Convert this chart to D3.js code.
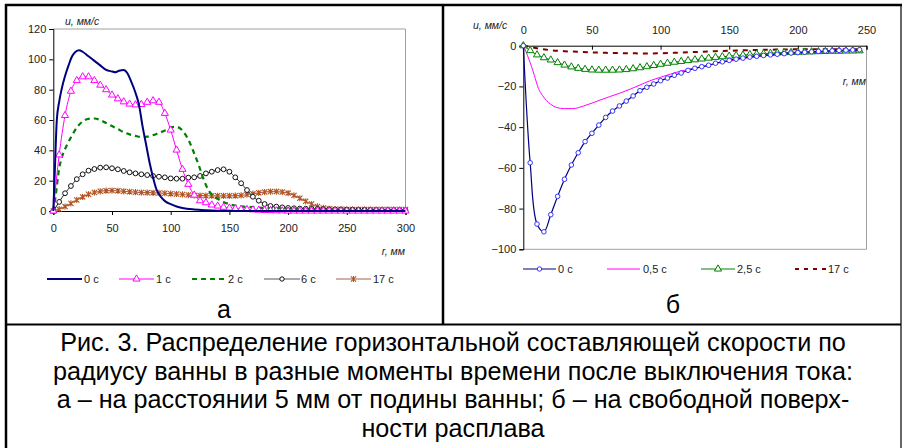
<!DOCTYPE html>
<html><head><meta charset="utf-8">
<script src="https://cdn.jsdelivr.net/npm/d3@7"></script>
<style>
html,body{margin:0;padding:0;background:#fff;}
svg{display:block;font-family:"Liberation Sans",Arial,sans-serif;}
</style></head>
<body><svg id="c" width="904" height="448"></svg>
<script>
// ---------- Panel а: u (mm/s) vs r (mm), 5 mm above the bottom ----------
const aXTicks = [0, 50, 100, 150, 200, 250, 300];
const aYTicks = [0, 20, 40, 60, 80, 100, 120];
const a0s = [[0,0],[1,20],[3,60],[5,72],[7,80],[10,89],[13,96],[16,102],[19,105],[22,106],[25,105],[30,102],[35,99],[40,96],[45,93],[50,92],[53,91.5],[56,92.5],[60,93],[63,91],[66,86],[70,78],[73,70],[76,56],[79,44],[82,32],[85,22],[88,14],[92,9],[96,6],[100,4.5],[105,3],[110,2],[120,1],[130,0.5],[140,0.2],[160,0],[200,0],[250,0],[300,0]];
const a1sX = d3.range(0, 301, 5);
const a1sY = [0,37,63,79,86,88.5,88.5,86,83,80,76.5,74,72,70.5,70,70.3,71.7,72.7,71.7,64.4,53.4,40.2,27.5,17.6,10.5,6.8,5.5,4,3.3,2.5,2,1.6,1.2,1,0.8,0.6,0.4,0.3,0.2,0.1,0,0,0,0,0,0,0,0,0,0,0,0,0,0,0,0,0,0,0,0,0];
const a2s = [[0,0],[2,10],[5,28],[8,37],[12,44],[16,50],[20,55],[25,59],[30,60.8],[35,61],[40,60],[45,58],[50,56],[55,54],[60,52],[65,50.5],[70,49.5],[75,48.8],[80,49],[85,50],[90,51.5],[95,53],[100,55],[105,55.5],[108,54.5],[112,51],[116,45.5],[120,38],[124,30],[128,21],[132,14],[136,10],[140,8],[145,6],[150,4.5],[160,3],[170,2.5],[180,2],[190,1.8],[200,1.5],[220,1],[250,0.7],[300,0.5]];
const a6sX = d3.range(0, 301, 5);
const a6sY = [0,6,11.7,16.5,21,24.2,26.6,27.7,28.6,28.8,28.2,27.5,26.4,25.5,24.8,24.2,23.7,23.1,22.6,22.2,21.5,21.3,21.3,22,22.2,23.1,24.8,25.9,27,27.5,25.9,22.2,18.3,13.8,9.4,6.8,4.6,3.3,2.9,2.4,2,1.8,1.6,1.5,1.4,1.3,1.2,1.1,1,1,0.9,0.9,0.8,0.8,0.7,0.7,0.6,0.6,0.5,0.5,0.5];
const a17sX = d3.range(0, 301, 5);
const a17sY = [0,1.2,2.9,5,7.3,9.3,11,12.2,13,13.4,13.5,13.3,13,12.7,12.4,12.2,12.1,12,11.9,11.7,11.4,11.2,10.9,10.5,10.3,10.2,10.1,10,10,10,10,10.1,10.3,10.8,11.4,12,12.5,12.8,12.8,12.5,11.8,10.3,8.4,6.4,4.6,3,2,1.5,1.2,1.1,1,1,1,1,1,1,1,1,1,1,1];
const aLegend = ["0 с", "1 с", "2 с", "6 с", "17 с"];

// ---------- Panel б: u (mm/s) vs r (mm), free surface ----------
const bXTicks = [0, 50, 100, 150, 200, 250];
const bYTicks = [0, -20, -40, -60, -80, -100];
const b0sX = d3.range(0, 246, 5);
const b0sY = [0,-57.5,-87.6,-91.4,-83,-74,-65.6,-58.6,-52.6,-47.1,-43,-39,-35.2,-32.1,-29.6,-27.2,-24.7,-22.1,-20.4,-18.8,-17.2,-15.9,-14.5,-13.4,-12.1,-11.1,-10.3,-9.6,-8.6,-7.9,-7.2,-6.6,-6.1,-5.6,-5.2,-4.8,-4.5,-4.2,-3.9,-3.6,-3.4,-3.2,-3,-2.8,-2.6,-2.5,-2.3,-2.2,-2.1,-2];
const b05s = [[0,0],[2,-3],[4,-6.5],[6,-10.3],[8,-14.5],[11,-20.9],[14,-24.5],[17,-27],[20,-28.8],[24,-30.3],[30,-30.9],[36,-30.9],[44,-29.6],[50,-28.2],[56,-26.7],[63,-25],[70,-23.4],[78,-21.3],[85,-19.3],[92,-17.3],[100,-15.5],[107,-14],[114,-12.6],[121,-11.5],[129,-10.6],[140,-8.8],[150,-7.5],[160,-6.3],[175,-5],[190,-4],[205,-3.3],[220,-2.8],[235,-2.4],[245,-2.2]];
const b25sX = d3.range(0, 246, 5);
const b25sY = [0,-2.4,-4.5,-5.9,-7,-8.3,-9.5,-10.4,-11.1,-11.6,-11.9,-12,-12,-12,-11.9,-11.7,-11.3,-10.8,-10.3,-9.7,-9.1,-8.6,-8.1,-7.7,-7.3,-6.9,-6.5,-6.1,-5.7,-5.4,-5.1,-4.8,-4.6,-4.3,-4.1,-3.9,-3.7,-3.5,-3.4,-3.3,-3.2,-3.1,-3,-2.9,-2.8,-2.7,-2.7,-2.6,-2.6,-2.5];
const b17s = [[0,0],[5,-0.6],[10,-1.3],[20,-2.2],[30,-2.7],[40,-3],[50,-3.3],[60,-3.5],[75,-3.7],[90,-3.8],[100,-3.7],[110,-3.5],[125,-3.1],[140,-2.7],[150,-2.5],[170,-2.1],[195,-1.8],[220,-1.7],[245,-1.7]];
const bLegend = ["0 с", "0,5 с", "2,5 с", "17 с"];

const captionLines = [
  "Рис. 3. Распределение горизонтальной составляющей скорости по",
  "радиусу ванны в разные моменты времени после выключения тока:",
  "а – на расстоянии 5 мм от подины ванны; б – на свободной поверх-",
  "ности расплава"
];

const zip = (xs, ys) => xs.map((x, i) => [x, ys[i]]);
const svg = d3.select("#c");
const TXT = "#222";

// frame
const frame = svg.append("g").attr("fill", "none").attr("stroke", "#000");
frame.append("line").attr("x1", 6).attr("y1", 4).attr("x2", 6).attr("y2", 448).attr("stroke-width", 2.5);
frame.append("line").attr("x1", 5).attr("y1", 5).attr("x2", 902).attr("y2", 5).attr("stroke-width", 2.5);
frame.append("line").attr("x1", 901).attr("y1", 5).attr("x2", 901).attr("y2", 448).attr("stroke-width", 1.2);
frame.append("line").attr("x1", 443).attr("y1", 5).attr("x2", 443).attr("y2", 325).attr("stroke-width", 2.5);
frame.append("line").attr("x1", 6).attr("y1", 324.5).attr("x2", 901).attr("y2", 324.5).attr("stroke-width", 2);

// markers
function triangle(g, x, y, color) {
  g.append("path").attr("d", d3.symbol(d3.symbolTriangle, 22)()).attr("transform", `translate(${x},${y})`)
    .attr("fill", "#fff").attr("stroke", color).attr("stroke-width", 1);
}
function circle(g, x, y, color, r) {
  g.append("circle").attr("cx", x).attr("cy", y).attr("r", r).attr("fill", "#fff").attr("stroke", color).attr("stroke-width", 1);
}
function star(g, x, y, color) {
  const s = 2.6;
  g.append("path").attr("d", `M${x-s},${y-s}L${x+s},${y+s}M${x-s},${y+s}L${x+s},${y-s}M${x},${y-s-0.5}L${x},${y+s+0.5}`)
    .attr("stroke", color).attr("stroke-width", 1.1).attr("fill", "none");
}

// ================= Panel а =================
{
  const x = d3.scaleLinear().domain([0, 300]).range([53.3, 405.5]);
  const y = d3.scaleLinear().domain([0, 120]).range([211, 29]);
  const g = svg.append("g");
  g.append("path").attr("d", `M${x(0)},${y(120)}H${x(300)}V${y(0)}`).attr("fill", "none").attr("stroke", "#a0a0a0").attr("stroke-width", 1);
  const ya = g.append("g").attr("transform", `translate(${x(0)},0)`)
    .call(d3.axisLeft(y).tickValues(aYTicks).tickSize(4).tickPadding(3));
  const xa = g.append("g").attr("transform", `translate(0,${y(0)})`)
    .call(d3.axisBottom(x).tickValues(aXTicks).tickSize(4).tickPadding(9));
  [ya, xa].forEach(a => {
    a.select(".domain").attr("stroke", "#000");
    a.selectAll(".tick line").attr("stroke", "#000");
    a.selectAll("text").attr("font-size", 11).attr("fill", TXT).attr("font-family", "Liberation Sans, Arial, sans-serif");
  });
  g.append("text").attr("x", 65).attr("y", 25).attr("font-size", 10.5).attr("font-style", "italic").attr("fill", TXT).text("u, мм/с");
  g.append("text").attr("x", 405).attr("y", 255).attr("text-anchor", "end").attr("font-size", 10.5).attr("font-style", "italic").attr("fill", TXT).text("r, мм");

  const line = d3.line().x(d => x(d[0])).y(d => y(d[1])).curve(d3.curveMonotoneX);
  const s17 = zip(a17sX, a17sY), s6 = zip(a6sX, a6sY), s1 = zip(a1sX, a1sY);
  const l17 = "#a8624e", m17 = "#b4521c";
  g.append("path").datum(s17).attr("d", line).attr("fill", "none").attr("stroke", l17).attr("stroke-width", 1.2);
  s17.forEach(d => star(g, x(d[0]), y(d[1]), m17));
  g.append("path").datum(s6).attr("d", line).attr("fill", "none").attr("stroke", "#222").attr("stroke-width", 1);
  s6.forEach(d => circle(g, x(d[0]), y(d[1]), "#111", 2.4));
  g.append("path").datum(a2s).attr("d", line).attr("fill", "none").attr("stroke", "#008000").attr("stroke-width", 2.2).attr("stroke-dasharray", "5,4");
  g.append("path").datum(s1).attr("d", line).attr("fill", "none").attr("stroke", "#ff00ff").attr("stroke-width", 1);
  s1.forEach(d => triangle(g, x(d[0]), y(d[1]), "#ff00ff"));
  g.append("path").datum(a0s).attr("d", line).attr("fill", "none").attr("stroke", "#000080").attr("stroke-width", 2);

  const ly = 279;
  const items = [
    {x1: 47, x2: 82, tx: 84, color: "#000080", w: 2},
    {x1: 119, x2: 154, tx: 156, color: "#ff00ff", w: 1, m: "tri"},
    {x1: 192, x2: 227, tx: 228, color: "#008000", w: 2.2, dash: "5,4"},
    {x1: 264, x2: 300, tx: 301, color: "#555", w: 1, m: "circ"},
    {x1: 336, x2: 371, tx: 373, color: l17, w: 1.2, m: "star"}
  ];
  items.forEach((it, i) => {
    g.append("line").attr("x1", it.x1).attr("x2", it.x2).attr("y1", ly).attr("y2", ly)
      .attr("stroke", it.color).attr("stroke-width", it.w).attr("stroke-dasharray", it.dash || null);
    const mx = (it.x1 + it.x2) / 2;
    if (it.m === "tri") triangle(g, mx, ly, "#ff00ff");
    if (it.m === "circ") circle(g, mx, ly, "#111", 2.2);
    if (it.m === "star") star(g, mx, ly, m17);
    g.append("text").attr("x", it.tx).attr("y", ly + 4).attr("font-size", 11).attr("fill", TXT).text(aLegend[i]);
  });
  g.append("text").attr("x", 224).attr("y", 318).attr("text-anchor", "middle").attr("font-size", 25).attr("fill", "#000").text("а");
}

// ================= Panel б =================
{
  const x = d3.scaleLinear().domain([0, 250]).range([523.3, 866.5]);
  const y = d3.scaleLinear().domain([-100, 0]).range([249.3, 45.7]);
  const g = svg.append("g");
  g.append("path").attr("d", `M${x(250)},${y(0)}V${y(-100)}H${x(0)}`).attr("fill", "none").attr("stroke", "#a0a0a0").attr("stroke-width", 1);
  const ya = g.append("g").attr("transform", `translate(${x(0)},0)`)
    .call(d3.axisLeft(y).tickValues(bYTicks).tickSize(4).tickPadding(3));
  const xa = g.append("g").attr("transform", `translate(0,${y(0)})`)
    .call(d3.axisTop(x).tickValues(bXTicks).tickSize(-4).tickPadding(12));
  [ya, xa].forEach(a => {
    a.select(".domain").attr("stroke", "#000");
    a.selectAll(".tick line").attr("stroke", "#000");
    a.selectAll("text").attr("font-size", 11).attr("fill", TXT).attr("font-family", "Liberation Sans, Arial, sans-serif");
  });
  g.append("text").attr("x", 473).attr("y", 29).attr("font-size", 10.5).attr("font-style", "italic").attr("fill", TXT).text("u, мм/с");
  g.append("text").attr("x", 866).attr("y", 85).attr("text-anchor", "end").attr("font-size", 10.5).attr("font-style", "italic").attr("fill", TXT).text("r, мм");

  const line = d3.line().x(d => x(d[0])).y(d => y(d[1])).curve(d3.curveMonotoneX);
  const s0 = zip(b0sX, b0sY), s25 = zip(b25sX, b25sY);
  g.append("path").datum(b17s).attr("d", line).attr("fill", "none").attr("stroke", "#800000").attr("stroke-width", 2).attr("stroke-dasharray", "5,5");
  g.append("path").datum(b05s).attr("d", line).attr("fill", "none").attr("stroke", "#ff00ff").attr("stroke-width", 1);
  g.append("path").datum(s25).attr("d", line).attr("fill", "none").attr("stroke", "#008000").attr("stroke-width", 1);
  s25.forEach(d => triangle(g, x(d[0]), y(d[1]), "#008000"));
  g.append("path").datum(s0).attr("d", line.curve(d3.curveCatmullRom)).attr("fill", "none").attr("stroke", "#000080").attr("stroke-width", 1.2);
  s0.forEach(d => circle(g, x(d[0]), y(d[1]), "#3333ff", 2.3));

  const ly = 269;
  const items = [
    {x1: 523, x2: 556, tx: 558, color: "#000080", w: 1.2, m: "circ"},
    {x1: 607, x2: 640, tx: 643, color: "#ff00ff", w: 1},
    {x1: 701, x2: 735, tx: 737, color: "#008000", w: 1, m: "tri"},
    {x1: 795, x2: 827, tx: 828, color: "#800000", w: 2, dash: "4,5"}
  ];
  items.forEach((it, i) => {
    g.append("line").attr("x1", it.x1).attr("x2", it.x2).attr("y1", ly).attr("y2", ly)
      .attr("stroke", it.color).attr("stroke-width", it.w).attr("stroke-dasharray", it.dash || null);
    const mx = (it.x1 + it.x2) / 2;
    if (it.m === "tri") triangle(g, mx, ly, "#008000");
    if (it.m === "circ") circle(g, mx, ly, "#3333ff", 2.2);
    g.append("text").attr("x", it.tx).attr("y", ly + 4).attr("font-size", 11).attr("fill", TXT).text(bLegend[i]);
  });
  g.append("text").attr("x", 673).attr("y", 313).attr("text-anchor", "middle").attr("font-size", 25).attr("fill", "#000").text("б");
}

// caption
svg.append("g").selectAll("text").data(captionLines).join("text")
  .attr("x", 453).attr("y", (d, i) => 351 + i * 28.7)
  .attr("text-anchor", "middle").attr("font-size", 25.2).attr("fill", "#000").text(d => d);
</script>
</body></html>
